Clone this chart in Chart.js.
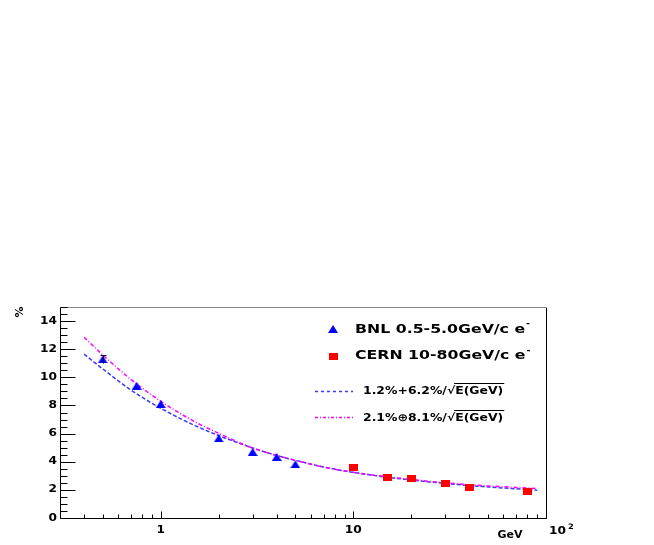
<!DOCTYPE html>
<html>
<head>
<meta charset="utf-8">
<script src="https://cdn.jsdelivr.net/npm/chart.js@4/dist/chart.umd.min.js"></script>
<style>body{margin:0;background:#fff}</style>
</head>
<body>
<canvas id="mycanvas" width="654" height="545"></canvas>
<script>
// measured points
var bnlE = [0.5, 0.75, 1, 2, 3, 4, 5];
var bnlRes = [11.28, 9.40, 8.10, 5.66, 4.69, 4.34, 3.82];
var bnlErr = [0.3, 0, 0, 0, 0, 0, 0];
var cernE = [10, 15, 20, 30, 40, 80];
var cernRes = [3.58, 2.86, 2.80, 2.44, 2.20, 1.87];

// fit curves
var fitE = [0.4, 0.5, 0.7, 1, 1.5, 2, 3, 4, 5, 7, 10, 15, 20, 30, 50, 90];
var fitLin = [11.65, 10.6, 9.1, 7.8, 6.58, 5.86, 4.98, 4.45, 4.1, 3.63, 3.24, 2.9, 2.7, 2.46, 2.21, 1.98];
var fitQuad = [12.85, 11.6, 9.85, 8.3, 6.85, 6.02, 4.97, 4.45, 4.1, 3.62, 3.25, 2.93, 2.74, 2.5, 2.28, 2.1];

var yTicks = [0, 2, 4, 6, 8, 10, 12, 14];
var yMinorStep = 0.5;
var xMajor = [1, 10, 100];
var xMinor = [0.4, 0.5, 0.6, 0.7, 0.8, 0.9, 2, 3, 4, 5, 6, 7, 8, 9, 20, 30, 40, 50, 60, 70, 80, 90];

var labels = ["BNL 0.5-5.0GeV/c e", "CERN 10-80GeV/c e", "1.2%+6.2%/\u221AE(GeV)", "2.1%\u22958.1%/\u221AE(GeV)"];

var FONT = '"DejaVu Sans", sans-serif';
var BLUE = '#3a3aff', MAGENTA = '#ff00ff';

function pts(xs, ys) {
	var out = [];
	for (var i in xs) out.push({x: xs[i], y: ys[i]});
	return out;
}

function markerImg(kind, w, h, color) {
	var c = document.createElement('canvas');
	c.width = w; c.height = h;
	var g = c.getContext('2d');
	g.fillStyle = color;
	if (kind == 'tri') {
		g.beginPath();
		g.moveTo(w / 2, 0); g.lineTo(w, h); g.lineTo(0, h);
		g.closePath(); g.fill();
	} else {
		g.fillRect(0, 0, w, h);
	}
	return c;
}

var triImg = markerImg('tri', 10, 8, '#0000ff');
var sqImg = markerImg('sq', 9, 7, '#ff0000');

// stretched bold text, returns drawn width
function txt(ctx, s, x, y, size, sx, align) {
	ctx.save();
	ctx.font = 'bold ' + size + 'px ' + FONT;
	var w = ctx.measureText(s).width * sx;
	if (align == 'right') x -= w;
	else if (align == 'center') x -= w / 2;
	ctx.translate(x, y);
	ctx.scale(sx, 1);
	ctx.textAlign = 'left';
	ctx.textBaseline = 'middle';
	ctx.fillStyle = '#000';
	ctx.fillText(s, 0, 0);
	ctx.restore();
	return w;
}

function hline(ctx, x0, x1, y, color, dash) {
	ctx.save();
	ctx.strokeStyle = color;
	ctx.lineWidth = 1.5;
	ctx.setLineDash(dash);
	ctx.beginPath();
	ctx.moveTo(x0, y); ctx.lineTo(x1, y);
	ctx.stroke();
	ctx.restore();
}

var rootStyle = {
	id: 'rootStyle',
	beforeDraw: function(chart) {
		var c = chart.ctx;
		c.save();
		c.fillStyle = '#fff';
		c.fillRect(0, 0, chart.width, chart.height);
		c.restore();
	},
	afterDraw: function(chart) {
		var c = chart.ctx, a = chart.chartArea;
		var xs = chart.scales.x, ys = chart.scales.y;
		var L = Math.round(a.left) + 0.5, R = Math.round(a.right) + 0.5;
		var T = Math.round(a.top) + 0.5, B = Math.round(a.bottom) + 0.5;
		c.save();
		c.lineWidth = 1;
		c.strokeStyle = '#000';
		c.beginPath();
		c.moveTo(L, T); c.lineTo(L, B); c.lineTo(R, B); c.lineTo(R, T);
		c.stroke();
		c.strokeStyle = '#888';
		c.beginPath(); c.moveTo(L, T); c.lineTo(R, T); c.stroke();

		// y ticks
		c.strokeStyle = '#000';
		c.beginPath();
		for (var v = 0; v <= ys.max; v += yMinorStep) {
			var py = Math.round(ys.getPixelForValue(v)) + 0.5;
			var len = (v % 2 == 0) ? 15 : 7;
			c.moveTo(L, py); c.lineTo(L + len, py);
		}
		// x ticks
		xMajor.forEach(function(e) {
			var px = Math.round(xs.getPixelForValue(e)) + 0.5;
			c.moveTo(px, B); c.lineTo(px, B - 7);
		});
		xMinor.forEach(function(e) {
			var px = Math.round(xs.getPixelForValue(e)) + 0.5;
			c.moveTo(px, B); c.lineTo(px, B - 4);
		});
		c.stroke();

		// error bar on first BNL point
		c.strokeStyle = '#000033';
		c.beginPath();
		for (var i in bnlE) {
			if (!bnlErr[i]) continue;
			var ex = Math.round(xs.getPixelForValue(bnlE[i])) + 0.5;
			var eTop = ys.getPixelForValue(bnlRes[i] + bnlErr[i]);
			var eBot = ys.getPixelForValue(bnlRes[i] - bnlErr[i]);
			c.moveTo(ex, eTop); c.lineTo(ex, eBot);
			c.moveTo(ex - 3, Math.round(eTop) + 0.5); c.lineTo(ex + 3, Math.round(eTop) + 0.5);
		}
		c.stroke();
		c.restore();

		// tick labels
		yTicks.forEach(function(v) {
			txt(c, String(v), 57, ys.getPixelForValue(v), 10, 1.22, 'right');
		});
		txt(c, '1', xs.getPixelForValue(1), 530, 10, 1.22, 'center');
		txt(c, '10', xs.getPixelForValue(10), 530, 10, 1.22, 'center');
		var w10 = txt(c, '10', xs.getPixelForValue(100) + 3, 531, 10, 1.22, 'left');
		txt(c, '2', xs.getPixelForValue(100) + 5 + w10, 527, 7.5, 1.1, 'left');
		txt(c, 'GeV', 510, 535.5, 10.5, 1.05, 'center');

		// y title
		c.save();
		c.translate(20, 312);
		c.rotate(-Math.PI / 2);
		c.font = 'bold 11px ' + FONT;
		c.textAlign = 'center';
		c.textBaseline = 'middle';
		c.fillStyle = '#000';
		c.fillText('%', 0, 0);
		c.restore();

		// legend
		c.drawImage(triImg, 328, 325);
		var w1 = txt(c, labels[0], 355, 329.5, 12.5, 1.26, 'left');
		txt(c, '-', 355 + w1 + 1, 324, 8, 1.2, 'left');
		c.drawImage(sqImg, 329, 353);
		var w2 = txt(c, labels[1], 355, 356, 12.5, 1.26, 'left');
		txt(c, '-', 355 + w2 + 1, 350.5, 8, 1.2, 'left');

		hline(c, 315, 353, 391.5, BLUE, [3, 3]);
		hline(c, 315, 353, 417.5, MAGENTA, [3, 2, 1, 2]);
		var rows = [[labels[2], 391.5, 383], [labels[3], 418, 410]];
		rows.forEach(function(r) {
			var s = r[0];
			var cut = s.indexOf('\u221A') + 1;
			var wAll = txt(c, s, 363, r[1], 10.2, 1.22, 'left');
			c.save();
			c.font = 'bold 10.2px ' + FONT;
			var wPre = c.measureText(s.substring(0, cut)).width * 1.22;
			c.strokeStyle = '#000';
			c.lineWidth = 1;
			c.beginPath();
			c.moveTo(363 + wPre - 1, r[2] + 0.5); c.lineTo(363 + wAll + 1, r[2] + 0.5);
			c.stroke();
			c.restore();
		});
	}
};

var ctx = document.getElementById('mycanvas');

var chartdata = {
	datasets: [
		{
			label: labels[0],
			data: pts(bnlE, bnlRes),
			pointStyle: triImg,
			pointRadius: 5,
			showLine: false
		},
		{
			label: labels[1],
			data: pts(cernE, cernRes),
			pointStyle: sqImg,
			pointRadius: 5,
			showLine: false
		},
		{
			label: labels[3],
			data: pts(fitE, fitQuad),
			showLine: true,
			pointRadius: 0,
			borderColor: MAGENTA,
			borderWidth: 1.5,
			borderDash: [4, 2, 1, 2],
			cubicInterpolationMode: 'monotone',
			fill: false
		},
		{
			label: labels[2],
			data: pts(fitE, fitLin),
			showLine: true,
			pointRadius: 0,
			borderColor: BLUE,
			borderWidth: 1.5,
			borderDash: [4, 2],
			cubicInterpolationMode: 'monotone',
			fill: false
		}
	]
};

var chart = new Chart(ctx, {
	type: 'scatter',
	data: chartdata,
	options: {
		responsive: false,
		animation: false,
		devicePixelRatio: 1,
		layout: { padding: { top: 307, right: 108, left: 0, bottom: 0 } },
		plugins: { legend: { display: false }, tooltip: { enabled: false } },
		scales: {
			x: {
				type: 'logarithmic',
				min: 0.3,
				max: 100,
				grid: { display: false },
				border: { display: false },
				ticks: { display: false },
				afterFit: function(s) { s.height = 27; }
			},
			y: {
				min: 0,
				max: 15,
				grid: { display: false },
				border: { display: false },
				ticks: { display: false },
				afterFit: function(s) { s.width = 60; }
			}
		}
	},
	plugins: [rootStyle]
});
</script>
</body>
</html>
